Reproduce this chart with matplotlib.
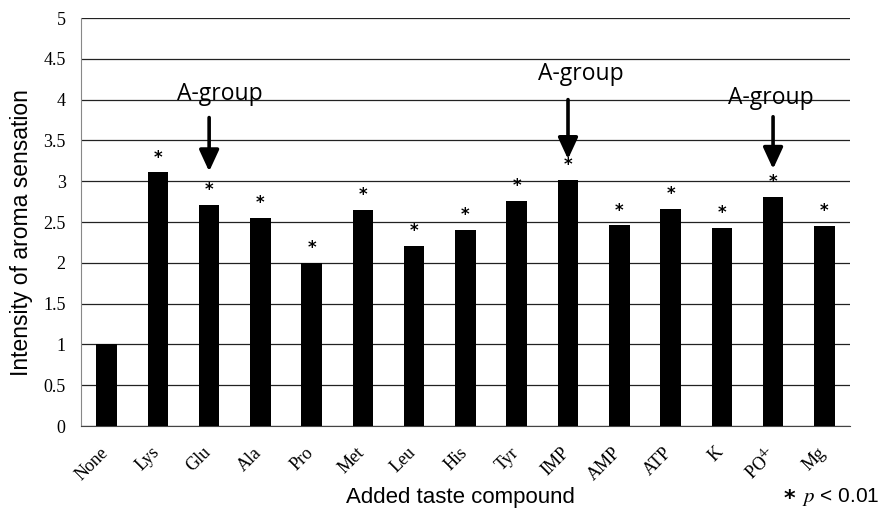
import matplotlib
matplotlib.use("Agg")
import matplotlib.pyplot as plt
import matplotlib.transforms as mtransforms
import numpy as np

plt.rcParams['mathtext.fontset'] = 'stix'

compounds = ['None', 'Lys', 'Glu', 'Ala', 'Pro', 'Met', 'Leu', 'His', 'Tyr',
             'IMP', 'AMP', 'ATP', 'K', r'PO$^{4\text{-}}$', 'Mg']
intensity = [1.0, 3.11, 2.71, 2.55, 2.0, 2.65, 2.21, 2.4, 2.76,
             3.02, 2.46, 2.66, 2.43, 2.81, 2.45]
significant = [False] + [True] * 14

# A-group annotations: bar index, text x offset, text height, arrow start, arrow end
agroup_idx = [2, 9, 13]
agroup_text_dx = [0.2, 0.25, -0.05]
agroup_text_y = [4.07, 4.31, 4.02]
agroup_arrow_top = [3.78, 4.0, 3.79]
agroup_arrow_end = [3.12, 3.27, 3.15]

fig = plt.figure(figsize=(8.84, 5.15), dpi=100)
ax = fig.add_axes([0.0916, 0.1728, 0.8699, 0.7922])

x = np.arange(len(compounds))
ax.bar(x, intensity, width=0.4, color='black', zorder=3)

for xi, v, s in zip(x, intensity, significant):
    if s:
        ax.text(xi, v + 0.07, '*', ha='center', va='bottom', fontsize=12,
                fontweight='bold', family='DejaVu Sans')

for i, dx, ty, a0, a1 in zip(agroup_idx, agroup_text_dx, agroup_text_y,
                             agroup_arrow_top, agroup_arrow_end):
    ax.text(i + dx, ty, 'A-group', ha='center', va='center', fontsize=16.5,
            family='Open Sans', zorder=4)
    ax.annotate('', xy=(i, a1), xytext=(i, a0),
                arrowprops=dict(arrowstyle='-|>,head_width=0.6,head_length=1.3',
                                color='black', lw=2.6, shrinkA=0, shrinkB=0),
                zorder=4)

ax.set_xlim(-0.5, len(compounds) - 0.5)
ax.set_ylim(0, 5)
ax.set_yticks(np.arange(0, 5.01, 0.5))
ax.set_yticklabels(['0', '0.5', '1', '1.5', '2', '2.5', '3', '3.5', '4', '4.5', '5'],
                   family='Liberation Serif', fontsize=13)
ax.set_xticks(x)
ax.set_xticklabels(compounds, rotation=45, ha='right', rotation_mode='anchor',
                   family='Liberation Serif', fontsize=13)
ax.tick_params(axis='y', length=0, pad=11)
ax.tick_params(axis='x', length=0, pad=13)
shift = mtransforms.ScaledTranslation(-7 / 100, 0, fig.dpi_scale_trans)
for lbl in ax.get_xticklabels():
    lbl.set_transform(lbl.get_transform() + shift)

ax.yaxis.grid(True, color='#222222', lw=0.9, zorder=0)
for sp in ['top', 'right']:
    ax.spines[sp].set_visible(False)
ax.spines['left'].set_color('#888888')
ax.spines['left'].set_linestyle((0, (2, 1)))
ax.spines['bottom'].set_color('#444444')

fig.text(22 / 884, 1 - 233 / 515, 'Intensity of aroma sensation', rotation=90,
         ha='center', va='center', family='Liberation Sans', fontsize=16.5)
fig.text(460 / 884, 1 - 497 / 515, 'Added taste compound', ha='center', va='center',
         family='Liberation Sans', fontsize=16)
fig.text(784 / 884, 1 - 499 / 515, '*', ha='left', va='center',
         family='DejaVu Sans', fontweight='bold', fontsize=16)
fig.text(802 / 884, 1 - 497 / 515, r'$p$ < 0.01', ha='left', va='center',
         family='Liberation Sans', fontsize=15)

fig.savefig('out.png', dpi=100)
